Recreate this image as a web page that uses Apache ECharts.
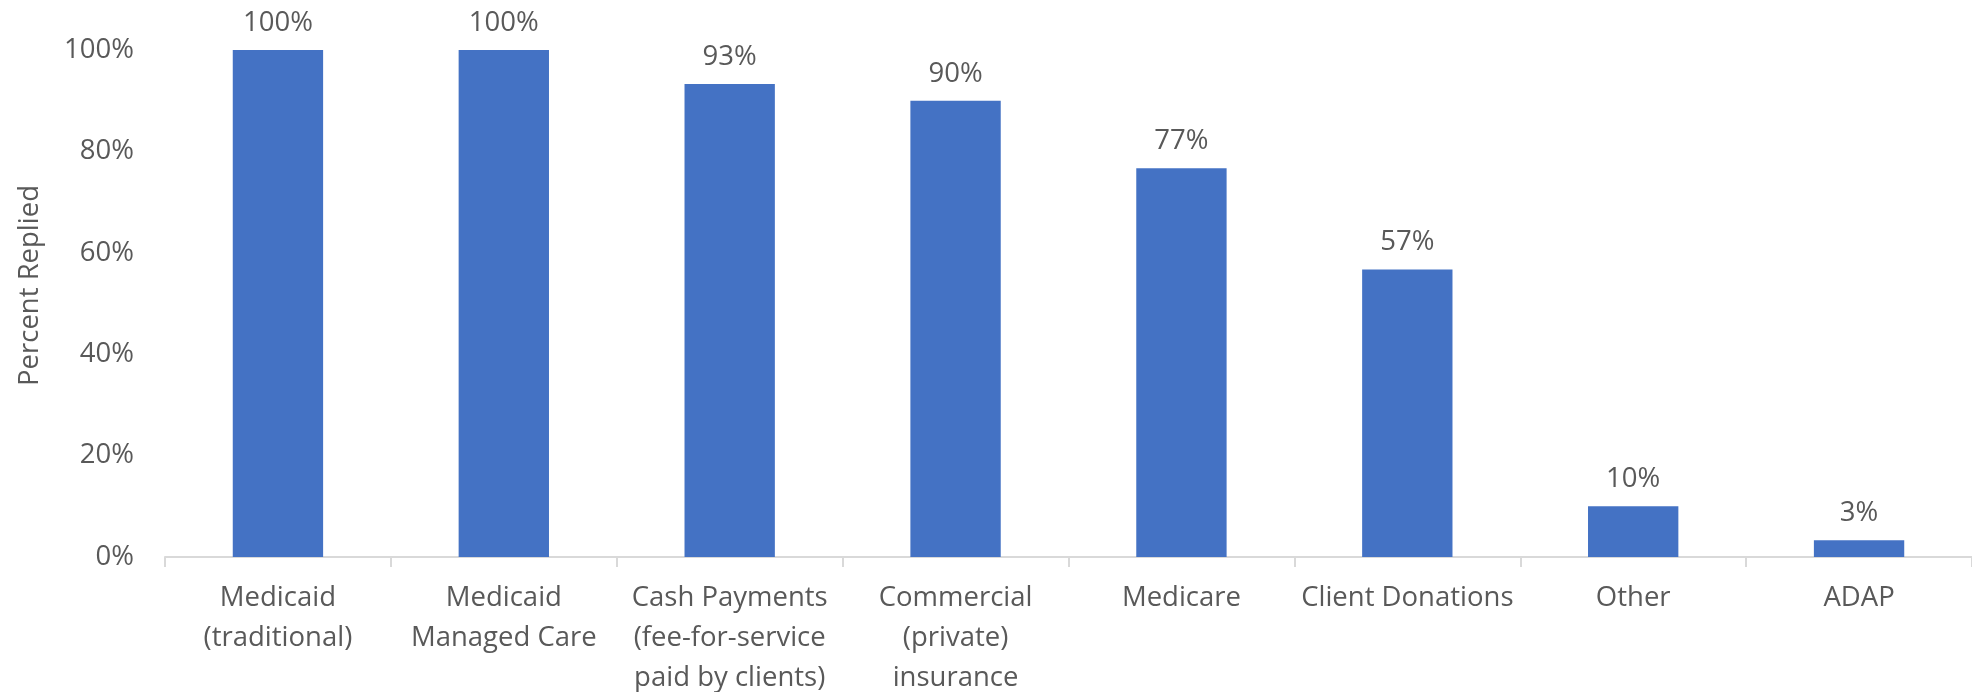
<!DOCTYPE html>
<html>
<head>
<meta charset="utf-8">
<script src="https://cdn.jsdelivr.net/npm/echarts@6/dist/echarts.min.js"></script>
<style>
html,body{margin:0;padding:0;background:#fff;}
#chart{width:1972px;height:692px;}
</style>
</head>
<body>
<div id="chart"></div>
<script>
const categories = [
  "Medicaid\n(traditional)",
  "Medicaid\nManaged Care",
  "Cash Payments\n(fee-for-service\npaid by clients)",
  "Commercial\n(private)\ninsurance",
  "Medicare",
  "Client Donations",
  "Other",
  "ADAP"
];
const percentReplied = [100, 100, 93.3, 90.0, 76.7, 56.7, 10.0, 3.3];
const yTicks = [0, 20, 40, 60, 80, 100];

const FONT = '"Open Sans", "Noto Sans", sans-serif';
const TXT = '#595959';

const chart = echarts.init(document.getElementById('chart'), null, {renderer: 'canvas'});
chart.setOption({
  animation: false,
  backgroundColor: '#ffffff',
  grid: {left: 165, right: 0, top: 50, bottom: 135, containLabel: false, outerBoundsMode: 'none'},
  xAxis: {
    type: 'category',
    data: categories,
    axisLine: {show: true, lineStyle: {color: '#d9d9d9', width: 2}},
    axisTick: {show: true, alignWithLabel: false, length: 10, lineStyle: {color: '#d9d9d9', width: 2}},
    axisLabel: {color: TXT, fontFamily: FONT, fontSize: 27.5, lineHeight: 40, margin: 21, interval: 0}
  },
  yAxis: {
    type: 'value',
    min: 0, max: 100, interval: 20,
    name: 'Percent Replied',
    nameLocation: 'middle',
    nameGap: 121,
    nameRotate: 90,
    nameTextStyle: {color: TXT, fontFamily: FONT, fontSize: 27.5, padding: [0, 0, 0, 36]},
    axisLine: {show: false},
    axisTick: {show: false},
    splitLine: {show: false},
    axisLabel: {color: TXT, fontFamily: FONT, fontSize: 27.5, margin: 31,
      formatter: v => yTicks.includes(v) ? v + '%' : ''}
  },
  series: [{
    type: 'bar',
    data: percentReplied,
    barCategoryGap: '60%',
    itemStyle: {color: '#4472C4'},
    label: {show: true, position: 'top', distance: 13, color: TXT, fontFamily: FONT, fontSize: 27.5,
      formatter: p => Math.round(p.value) + '%'}
  }]
});
</script>
</body>
</html>
